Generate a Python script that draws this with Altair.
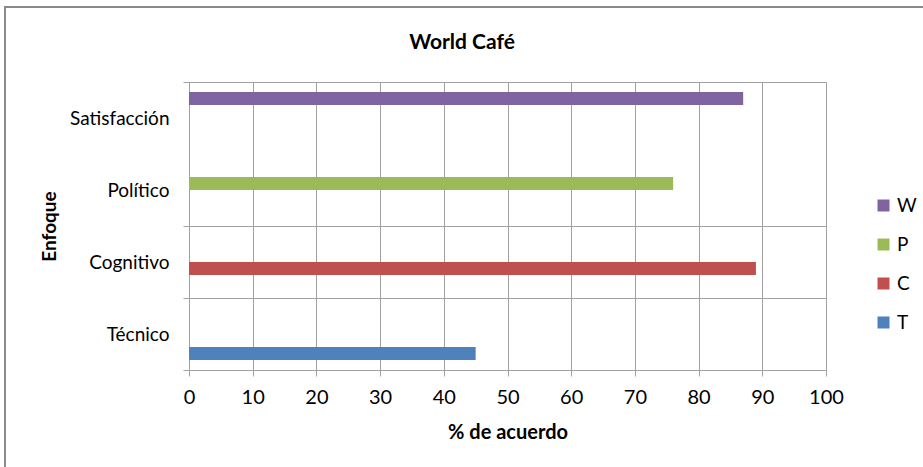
import altair as alt
import pandas as pd

chart_title = "World Café"
categories = ["Técnico", "Cognitivo", "Político", "Satisfacción"]
series_names = ["T", "C", "P", "W"]
T_vals = [45, 0, 0, 0]
C_vals = [0, 89, 0, 0]
P_vals = [0, 0, 76, 0]
W_vals = [0, 0, 0, 87]
x_ticks = [0, 10, 20, 30, 40, 50, 60, 70, 80, 90, 100]
series_colors = ["#4F81BD", "#C0504D", "#9BBB59", "#8064A2"]

rows = []
for s, vals in zip(series_names, [T_vals, C_vals, P_vals, W_vals]):
    for c, v in zip(categories, vals):
        rows.append({"Enfoque": c, "Serie": s, "Valor": v})
df = pd.DataFrame(rows)

FONT = "Lato"
GRID = "#a0a0a0"
FS = 19
legend_order = ["W", "P", "C", "T"]
color_map = dict(zip(series_names, series_colors))
top_cat = "datum.value == '" + categories[-1] + "' && !datum.extra"

bars = alt.Chart(df).mark_bar().encode(
    x=alt.X(
        "Valor:Q",
        scale=alt.Scale(domain=[0, 100], nice=False),
        axis=alt.Axis(
            values=x_ticks, title="% de acuerdo", grid=True, gridColor=GRID,
            tickColor=GRID, tickSize=6, domainColor=GRID, labelFontSize=20,
            labelColor="#000000", labelPadding=11, labelFont=FONT,
            labelFlush=False, labelOverlap=False,
            titleFont=FONT, titleFontSize=20, titleFontWeight="bold",
            titleColor="#000000", titlePadding=15,
        ),
    ),
    y=alt.Y(
        "Enfoque:N",
        sort=categories[::-1],
        scale=alt.Scale(paddingInner=0, paddingOuter=0),
        axis=alt.Axis(
            tickBand="extent", grid=True, gridColor=GRID, tickColor=GRID,
            gridOpacity=alt.condition(top_cat, alt.value(0), alt.value(1)),
            tickOpacity=alt.condition(top_cat, alt.value(0), alt.value(1)),
            tickSize=6, domainColor=GRID, labelFontSize=FS, labelColor="#000000",
            labelPadding=14, labelFont=FONT, title="Enfoque", titleFont=FONT,
            titleFontSize=19, titleFontWeight="bold", titleColor="#000000",
            titlePadding=10,
        ),
    ),
    yOffset=alt.YOffset(
        "Serie:N", sort=legend_order,
        scale=alt.Scale(paddingInner=0, paddingOuter=0.77),
    ),
    color=alt.Color(
        "Serie:N",
        scale=alt.Scale(domain=legend_order, range=[color_map[s] for s in legend_order]),
        legend=alt.Legend(
            title=None, orient="none", legendX=685, legendY=114,
            symbolType="square", symbolSize=144, symbolStrokeWidth=0,
            labelFont=FONT, labelFontSize=FS, labelColor="#000000",
            labelOffset=4, rowPadding=19,
        ),
    ),
)

border = alt.Chart(alt.Data(values=[{"k": 1}])).mark_rect(
    fillOpacity=0, stroke="#8a8a8a", strokeWidth=2
).encode(
    x=alt.value(-184), x2=alt.value(745), y=alt.value(-75), y2=alt.value(400)
)

title = alt.Chart(alt.Data(values=[{"t": chart_title}])).mark_text(
    font=FONT, fontSize=21, fontWeight="bold", color="#000000",
    align="center", baseline="middle"
).encode(text="t:N", x=alt.value(273), y=alt.value(-39))

chart = alt.layer(border, title, bars).properties(
    width=637,
    height=288,
    autosize=alt.AutoSizeParams(type="none"),
    padding={"left": 189, "top": 82, "right": 97, "bottom": 97},
).configure_view(stroke=None).configure(background="white")

chart.save("out.html", embed_options={"renderer": "svg", "actions": False})
